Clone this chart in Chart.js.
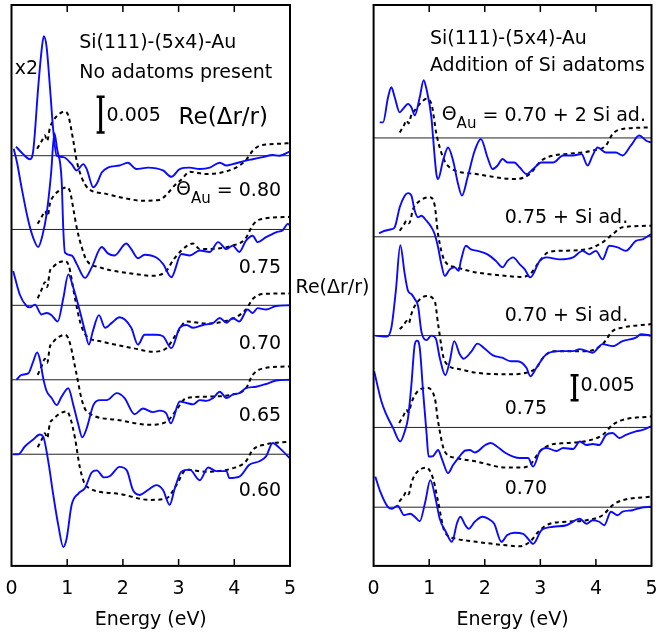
<!DOCTYPE html>
<html>
<head>
<meta charset="utf-8">
<script src="https://cdn.jsdelivr.net/npm/chart.js@4.4.1/dist/chart.umd.min.js"></script>
<style>
  html, body { margin: 0; padding: 0; background: #fff; }
  #wrap { position: relative; width: 663px; height: 633px; }
  #left { position: absolute; left: 0; top: 0; }
  #right { position: absolute; left: 331px; top: 0; }
</style>
</head>
<body>
<div id="wrap">
  <canvas id="left" width="372" height="633"></canvas>
  <canvas id="right" width="332" height="633"></canvas>
</div>
<script>
// x axis
const xTickLabels = ['0', '1', '2', '3', '4', '5'];

// Re(dr/r) in units of 0.001, each curve relative to its own zero line
// left panel: no adatoms, coverage 0.80 .. 0.60 (top curve shown x2)
const leftLabels = ['0.80', '0.75', '0.70', '0.65', '0.60'];
const leftOffsets = [58.4, 47.9, 37.1, 26.5, 15.9];

const expL080 = [[0.08,1.3],[0.2,0.3],[0.33,-0.5],[0.39,0.7],[0.48,9.8],[0.54,15],[0.58,17.0],[0.63,15.5],[0.69,9.8],[0.75,3.6],[0.81,0],[0.93,-0.2],[1.08,-1.2],[1.17,-2.1],[1.29,-1.2],[1.35,-1.9],[1.47,-4.5],[1.53,-4.0],[1.62,-2.4],[1.73,-1.7],[1.94,-1.4],[2.09,-1.0],[2.24,-1.9],[2.45,-1.7],[2.72,-2.1],[2.87,-3.0],[3.02,-1.9],[3.2,-1.7],[3.38,-1.9],[3.56,-1.7],[3.74,-1.0],[3.86,-1.4],[3.97,-1.2],[4.21,-0.7],[4.33,-0.5],[4.51,-0.2],[4.69,0.1],[4.81,0],[5.0,0.6]];
const expL075 = [[0.04,11.5],[0.1,9.5],[0.18,6.0],[0.3,1.3],[0.39,-1.2],[0.48,-2.5],[0.56,-0.7],[0.63,2.2],[0.71,7.9],[0.77,13.7],[0.82,11.4],[0.9,7.0],[0.93,0],[0.96,-3.3],[1.08,-3.7],[1.17,-4.9],[1.32,-6.9],[1.44,-5.4],[1.62,-2.5],[1.73,-3.4],[1.85,-3.7],[2.06,-2.0],[2.15,-2.8],[2.27,-4.1],[2.39,-3.6],[2.6,-4.0],[2.72,-4.9],[2.87,-6.8],[3.05,-3.5],[3.2,-3.7],[3.38,-3.0],[3.56,-3.2],[3.71,-1.8],[3.86,-2.8],[3.97,-2.3],[4.09,-3.2],[4.21,-1.6],[4.33,-0.9],[4.42,-1.8],[4.57,-1.1],[4.75,-0.4],[4.87,-0.1],[4.96,0.8],[5.0,0.6]];
const expL070 = [[0.03,4.9],[0.15,1.5],[0.27,-0.1],[0.33,-0.3],[0.42,0.1],[0.54,-1.3],[0.63,-1.1],[0.72,-1.4],[0.83,-2.3],[0.93,1.0],[1.02,4.4],[1.11,2.5],[1.23,-0.9],[1.32,-3.7],[1.39,-5.6],[1.46,-3.7],[1.57,-1.4],[1.68,-3.2],[1.8,-2.5],[1.94,-1.7],[2.15,-3.2],[2.27,-5.6],[2.39,-4.2],[2.6,-4.2],[2.72,-4.4],[2.87,-6.1],[3.02,-3.2],[3.14,-2.8],[3.26,-3.2],[3.44,-2.8],[3.62,-2.5],[3.74,-1.8],[3.86,-2.5],[3.97,-1.8],[4.09,-2.3],[4.24,-0.6],[4.33,-1.1],[4.42,-0.4],[4.57,-0.6],[4.75,-0.1],[5.0,0]];
const expL065 = [[0.09,0],[0.18,0.7],[0.3,0.9],[0.39,2.6],[0.46,3.9],[0.51,2.9],[0.57,0.2],[0.63,-1.6],[0.72,-2.6],[0.81,-3.6],[0.9,-2.4],[1.02,-1.2],[1.11,-3.6],[1.2,-6.4],[1.27,-8.2],[1.35,-6.9],[1.47,-3.6],[1.59,-2.9],[1.71,-2.9],[1.89,-1.9],[2.03,-2.6],[2.21,-4.9],[2.36,-4.1],[2.54,-4.6],[2.66,-4.4],[2.78,-4.8],[2.86,-6.2],[3.02,-3.1],[3.14,-3.3],[3.26,-3.5],[3.38,-2.9],[3.5,-3.0],[3.62,-2.6],[3.74,-1.7],[3.86,-2.6],[3.97,-2.1],[4.09,-1.9],[4.21,-1.2],[4.39,-1.0],[4.57,-0.6],[4.75,-0.1],[5.0,0]];
const expL060 = [[0.03,0],[0.12,0],[0.24,1.1],[0.39,2.1],[0.51,2.8],[0.57,2.5],[0.66,-1.0],[0.75,-5.8],[0.84,-10.1],[0.93,-13.2],[0.99,-12.0],[1.08,-7.2],[1.2,-5.6],[1.32,-4.8],[1.44,-2.6],[1.53,-2.3],[1.66,-3.3],[1.77,-3.1],[1.94,-1.8],[2.07,-2.3],[2.18,-5.1],[2.3,-5.8],[2.45,-5.1],[2.6,-4.4],[2.72,-5.1],[2.84,-7.2],[2.93,-4.9],[3.05,-2.5],[3.2,-2.2],[3.38,-3.7],[3.53,-1.9],[3.68,-2.4],[3.86,-2.4],[3.91,-3.4],[4.09,-3.2],[4.27,-1.5],[4.45,-1.0],[4.57,-0.3],[4.69,1.6],[4.81,0.9],[5.0,-0.6]];

const thL080 = [[0.46,1.0],[0.55,2.2],[0.6,2.9],[0.64,2.1],[0.69,4.0],[0.75,5.0],[0.85,5.9],[0.96,6.3],[1.02,5.7],[1.11,2.1],[1.17,-0.7],[1.26,-3.1],[1.38,-4.7],[1.68,-5.4],[2.0,-6.0],[2.35,-6.4],[2.65,-6.3],[2.8,-5.4],[2.92,-4.3],[3.05,-3.4],[3.2,-2.3],[3.5,-2.6],[3.97,-1.9],[4.2,-0.7],[4.33,0.7],[4.45,1.4],[4.8,1.7],[5.0,1.8]];
const thL075 = [[0.47,0.8],[0.55,1.9],[0.6,2.6],[0.65,1.9],[0.69,3.7],[0.75,4.7],[0.87,5.6],[0.99,6.0],[1.05,5.4],[1.12,2.5],[1.17,0.3],[1.26,-2.5],[1.35,-4.4],[1.59,-5.4],[2.18,-6.3],[2.54,-6.6],[2.78,-5.9],[2.9,-4.4],[3.05,-3.0],[3.26,-2.0],[3.38,-2.8],[3.97,-2.3],[4.2,-1.3],[4.33,0.6],[4.45,1.4],[5.0,1.8]];
const thL070 = [[0.47,1.0],[0.55,2.4],[0.6,3.3],[0.64,2.6],[0.69,4.9],[0.75,5.5],[0.85,6.1],[0.96,6.3],[1.03,5.6],[1.14,1.0],[1.24,-2.6],[1.35,-4.4],[1.59,-5.1],[2.18,-6.1],[2.54,-6.6],[2.78,-6.1],[2.96,-4.1],[3.14,-2.3],[3.5,-2.6],[3.97,-1.9],[4.21,-0.6],[4.33,0.9],[4.51,1.6],[5.0,1.7]];
const thL065 = [[0.47,0.7],[0.55,2.1],[0.6,3.0],[0.64,2.4],[0.69,4.7],[0.75,5.4],[0.85,6.1],[0.96,6.4],[1.03,5.7],[1.17,0.7],[1.26,-2.8],[1.35,-4.5],[1.89,-5.7],[2.48,-6.4],[2.78,-6.0],[2.96,-4.3],[3.14,-2.6],[3.5,-2.4],[3.97,-2.1],[4.21,-1.2],[4.33,0.7],[4.57,1.7],[5.0,1.9]];
const thL060 = [[0.47,1.0],[0.55,2.2],[0.6,3.0],[0.64,2.3],[0.69,4.4],[0.75,5.0],[0.87,5.8],[0.99,6.1],[1.05,5.3],[1.14,2.3],[1.23,-2.0],[1.35,-4.6],[1.89,-5.6],[2.48,-6.5],[2.78,-6.3],[2.96,-4.4],[3.14,-2.2],[3.5,-2.5],[3.97,-2.0],[4.21,-1.0],[4.33,0.6],[4.57,1.4],[5.0,1.8]];

// right panel: addition of Si adatoms
const rightLabels = ['0.70 + 2 Si ad.', '0.75 + Si ad.', '0.70 + Si ad.', '0.75', '0.70'];
const rightOffsets = [85.3, 65.6, 45.9, 27.6, 11.7];

const expR1 = [[0.11,3.1],[0.17,3.1],[0.26,8.1],[0.32,10.1],[0.38,8.1],[0.47,5.1],[0.53,5.8],[0.62,6.8],[0.68,6.1],[0.74,4.5],[0.83,8.1],[0.9,11.5],[0.95,9.8],[1.04,4.1],[1.07,0.1],[1.13,-7.2],[1.16,-8.2],[1.25,-4.5],[1.34,-1.9],[1.43,-4.5],[1.52,-9.2],[1.59,-11.5],[1.69,-7.9],[1.82,-2.5],[1.93,-0.2],[2.05,-3.9],[2.14,-6.2],[2.23,-5.5],[2.32,-4.2],[2.41,-4.9],[2.53,-4.9],[2.63,-5.9],[2.75,-7.2],[2.87,-6.2],[3.02,-4.9],[3.23,-4.9],[3.41,-3.5],[3.59,-3.5],[3.74,-3.2],[3.85,-5.5],[3.94,-3.5],[4.03,-1.9],[4.18,-2.9],[4.36,-2.9],[4.48,-3.5],[4.63,-1.5],[4.78,0.5],[4.9,-0.5],[4.99,-0.9]];
const expR2 = [[0.1,0.7],[0.2,1.2],[0.32,1.5],[0.38,1.9],[0.47,5.9],[0.56,8.2],[0.62,8.7],[0.68,8.2],[0.74,5.2],[0.8,3.9],[0.86,4.2],[0.95,3.2],[1.04,1.9],[1.1,0.5],[1.16,-2.1],[1.22,-5.5],[1.28,-7.8],[1.37,-6.5],[1.46,-6.1],[1.53,-6.8],[1.57,-4.8],[1.66,-1.8],[1.75,-2.5],[1.87,-2.8],[2.05,-3.5],[2.2,-4.8],[2.32,-6.1],[2.41,-4.8],[2.51,-4.1],[2.63,-5.5],[2.72,-6.5],[2.82,-8.1],[2.99,-4.8],[3.11,-4.1],[3.35,-4.5],[3.59,-4.1],[3.76,-2.8],[3.88,-3.5],[4.0,-2.8],[4.12,-4.5],[4.24,-1.8],[4.39,-2.1],[4.54,-2.8],[4.72,-0.8],[4.84,-0.5],[4.99,0.5]];
const expR3 = [[0.03,0],[0.24,-0.2],[0.32,1.6],[0.4,8.9],[0.48,18.0],[0.56,12.3],[0.62,8.9],[0.68,8.3],[0.74,7.3],[0.8,5.9],[0.86,0.8],[0.95,-0.9],[1.04,0],[1.12,-0.6],[1.19,-4.4],[1.29,-7.9],[1.37,-5.1],[1.45,-1.1],[1.55,-3.7],[1.62,-4.6],[1.75,-3.3],[1.87,-1.6],[1.98,-2.4],[2.14,-3.9],[2.31,-4.4],[2.47,-5.1],[2.59,-5.1],[2.75,-6.4],[2.82,-8.1],[2.93,-6.4],[3.11,-3.7],[3.35,-3.1],[3.59,-3.1],[3.71,-2.7],[3.94,-3.4],[4.12,-1.7],[4.3,-2.1],[4.48,-1.1],[4.72,-0.4],[4.81,0.3],[4.99,0]];
const expR4 = [[0.01,11.2],[0.14,5.2],[0.22,2.8],[0.35,-0.1],[0.48,-2.8],[0.56,-0.8],[0.62,1.9],[0.68,8.5],[0.74,16.5],[0.78,17.3],[0.83,15.9],[0.89,7.2],[0.95,-0.8],[0.99,-5.8],[1.07,-5.7],[1.16,-4.5],[1.23,-6.3],[1.34,-9.1],[1.43,-7.5],[1.53,-6.0],[1.65,-4.6],[1.73,-4.5],[1.82,-5.0],[2.01,-3.5],[2.11,-3.1],[2.22,-3.8],[2.36,-5.0],[2.51,-5.8],[2.63,-6.1],[2.78,-6.1],[2.87,-7.8],[2.99,-4.8],[3.11,-4.1],[3.29,-4.7],[3.41,-4.1],[3.59,-4.3],[3.71,-2.8],[3.83,-3.5],[3.94,-3.3],[4.06,-3.5],[4.18,-1.5],[4.3,-1.1],[4.42,-2.1],[4.54,-1.5],[4.72,-0.8],[4.84,-0.5],[4.99,0.2]];
const expR5 = [[0.03,6.1],[0.12,3.1],[0.26,0],[0.33,-0.3],[0.43,0.3],[0.55,-1.6],[0.66,-1.3],[0.74,-1.9],[0.83,-2.8],[0.93,1.1],[1.02,5.4],[1.11,2.0],[1.19,-2.3],[1.3,-4.9],[1.41,-6.9],[1.5,-3.2],[1.56,-1.9],[1.65,-3.6],[1.71,-4.3],[1.82,-2.9],[1.96,-1.9],[2.09,-2.5],[2.17,-3.3],[2.3,-6.9],[2.4,-5.6],[2.54,-5.1],[2.69,-5.3],[2.78,-6.3],[2.87,-7.3],[3.02,-4.6],[3.23,-3.9],[3.47,-3.6],[3.71,-2.3],[3.83,-3.3],[3.94,-2.6],[4.06,-2.9],[4.15,-3.6],[4.27,-0.9],[4.39,-1.6],[4.48,-0.9],[4.66,-0.6],[4.81,-0.1],[4.99,0.1]];

const thR1 = [[0.47,1.1],[0.55,2.6],[0.59,3.5],[0.63,2.9],[0.68,4.6],[0.74,5.5],[0.85,7.0],[0.95,7.8],[1.04,6.8],[1.13,0.8],[1.25,-3.9],[1.37,-5.9],[1.85,-7.2],[2.57,-8.2],[2.81,-7.2],[3.02,-4.5],[3.23,-3.5],[3.47,-3.2],[3.94,-2.5],[4.18,-1.5],[4.3,0.8],[4.48,1.8],[5.0,2.1]];
const thR2 = [[0.47,1.2],[0.55,2.5],[0.59,3.2],[0.64,2.7],[0.71,5.5],[0.8,6.9],[1.01,7.9],[1.1,6.2],[1.16,0.5],[1.28,-4.8],[1.49,-6.1],[1.85,-7.1],[2.39,-7.8],[2.63,-8.0],[2.81,-7.5],[2.99,-4.8],[3.14,-3.1],[3.35,-2.8],[3.83,-2.5],[4.12,-1.1],[4.3,0.5],[4.48,1.9],[5.0,2.2]];
const thR3 = [[0.47,1.3],[0.55,2.2],[0.59,2.9],[0.63,2.4],[0.68,4.3],[0.74,5.9],[0.95,7.9],[1.1,6.9],[1.16,2.3],[1.28,-5.1],[1.55,-6.7],[1.85,-7.4],[2.45,-7.7],[2.75,-7.4],[2.93,-6.4],[3.05,-4.4],[3.23,-3.1],[3.83,-3.1],[4.12,-1.7],[4.3,0.9],[4.48,1.6],[5.0,2.3]];
const thR4 = [[0.46,0.9],[0.54,2.4],[0.59,3.5],[0.63,3.0],[0.68,4.9],[0.77,6.9],[0.95,7.9],[1.1,5.9],[1.16,1.2],[1.28,-4.8],[1.49,-6.1],[1.85,-6.8],[2.39,-8.0],[2.63,-8.0],[2.81,-7.5],[2.99,-4.8],[3.17,-3.5],[3.47,-3.1],[3.83,-2.7],[4.12,-1.5],[4.3,0.5],[4.48,1.5],[5.0,2.2]];
const thR5 = [[0.46,1.1],[0.54,2.2],[0.59,3.1],[0.63,2.6],[0.68,4.8],[0.74,6.4],[0.95,7.9],[1.07,5.7],[1.16,1.1],[1.28,-4.9],[1.49,-6.3],[1.85,-6.9],[2.39,-7.6],[2.63,-7.8],[2.81,-6.9],[2.99,-4.6],[3.17,-3.3],[3.47,-2.9],[3.83,-2.6],[4.12,-1.6],[4.3,0.4],[4.48,1.4],[5.0,2.1]];

const FONT = 'DejaVu Sans';
const BLUE = '#0a0aff';

function shifted(points, offset) {
  return points.map(p => ({ x: p[0], y: p[1] + offset }));
}

function buildDatasets(expList, thList, offsets) {
  const sets = [];
  offsets.forEach((off, i) => {
    sets.push({ data: [{ x: 0, y: off }, { x: 5, y: off }], borderColor: '#222', borderWidth: 1, order: 3 });
    sets.push({ data: shifted(thList[i], off), borderColor: '#000', borderWidth: 2, borderDash: [4, 3.5], order: 2, cubicInterpolationMode: 'monotone' });
    sets.push({ data: shifted(expList[i], off), borderColor: BLUE, borderWidth: 1.9, order: 1, cubicInterpolationMode: 'monotone' });
  });
  return sets;
}

// frame, inward ticks, scale bar and texts
const decorPlugin = {
  id: 'decor',
  afterDraw(chart, args, opts) {
    const { ctx, chartArea: a, scales: { x, y } } = chart;
    ctx.save();
    ctx.strokeStyle = '#000';
    ctx.lineWidth = 1.5;
    [1, 2, 3, 4].forEach(v => {
      const px = x.getPixelForValue(v);
      ctx.beginPath();
      ctx.moveTo(px, a.top); ctx.lineTo(px, a.top + 7);
      ctx.moveTo(px, a.bottom); ctx.lineTo(px, a.bottom - 7);
      ctx.stroke();
    });
    ctx.lineWidth = 2;
    ctx.strokeRect(a.left, a.top, a.right - a.left, a.bottom - a.top);

    // 0.005 scale bar
    const bx = x.getPixelForValue(opts.bar.x);
    const b1 = y.getPixelForValue(opts.bar.from);
    const b2 = y.getPixelForValue(opts.bar.to);
    ctx.lineWidth = 3;
    ctx.beginPath();
    ctx.moveTo(bx, b1); ctx.lineTo(bx, b2);
    ctx.stroke();
    ctx.lineWidth = 2.5;
    ctx.beginPath();
    ctx.moveTo(bx - 4, b1); ctx.lineTo(bx + 4, b1);
    ctx.moveTo(bx - 4, b2); ctx.lineTo(bx + 4, b2);
    ctx.stroke();

    ctx.fillStyle = '#000';
    ctx.textBaseline = 'middle';
    opts.texts.forEach(t => {
      ctx.font = (t.size || 19) + 'px "' + FONT + '"';
      ctx.textAlign = t.align || 'left';
      ctx.fillText(t.text, x.getPixelForValue(t.x), y.getPixelForValue(t.y));
    });

    // Theta_Au label, right aligned
    const th = opts.theta;
    const big = '19px "' + FONT + '"', small = '15px "' + FONT + '"';
    ctx.textAlign = 'left';
    ctx.font = big;
    const w1 = ctx.measureText('\u0398').width;
    const w3 = ctx.measureText(th.rest).width;
    ctx.font = small;
    const w2 = ctx.measureText('Au').width;
    let px = x.getPixelForValue(th.x) - (w1 + w2 + w3);
    const py = y.getPixelForValue(th.y);
    ctx.font = big;
    ctx.fillText('\u0398', px, py - 1);
    ctx.font = small;
    ctx.fillText('Au', px + w1, py + 8);
    ctx.font = big;
    ctx.fillText(th.rest, px + w1 + w2, py);
    ctx.restore();
  }
};

function makeChart(id, datasets, yMax, padding, decor) {
  return new Chart(document.getElementById(id), {
    type: 'line',
    data: { datasets: datasets },
    options: {
      responsive: false,
      animation: false,
      devicePixelRatio: 1,
      elements: { point: { radius: 0 } },
      layout: { padding: padding },
      plugins: { legend: { display: false }, tooltip: { enabled: false }, decor: decor },
      scales: {
        x: {
          type: 'linear', min: 0, max: 5,
          grid: { display: false, drawTicks: false },
          border: { display: false },
          ticks: {
            stepSize: 1, padding: 5, color: '#000',
            font: { family: FONT, size: 19, lineHeight: 1.9 },
            callback: (v, i) => xTickLabels[i]
          },
          title: {
            display: true, text: 'Energy (eV)', color: '#000',
            font: { family: FONT, size: 19 },
            padding: { top: -3.8, bottom: 0 }
          }
        },
        y: { display: false, min: 0, max: yMax }
      }
    },
    plugins: [decorPlugin]
  });
}

const leftTexts = [
  { text: 'x2', x: 0.06, y: 70.7 },
  { text: 'Si(111)-(5x4)-Au', x: 1.215, y: 74.4 },
  { text: 'No adatoms present', x: 1.215, y: 70.2 },
  { text: '0.005', x: 1.706, y: 64.0 },
  { text: 'Re(\u0394r/r)', x: 3.0, y: 63.7, size: 23 },
  { text: leftLabels[1], x: 4.84, y: 42.36, align: 'right' },
  { text: leftLabels[2], x: 4.84, y: 31.64, align: 'right' },
  { text: leftLabels[3], x: 4.84, y: 21.29, align: 'right' },
  { text: leftLabels[4], x: 4.84, y: 10.71, align: 'right' },
  { text: 'Re(\u0394r/r)', x: 5.1, y: 39.57 }
];

const rightTexts = [
  { text: 'Si(111)-(5x4)-Au', x: 1.013, y: 105.0 },
  { text: 'Addition of Si adatoms', x: 1.013, y: 99.6 },
  { text: rightLabels[1], x: 2.36, y: 69.4 },
  { text: rightLabels[2], x: 2.36, y: 49.8 },
  { text: '0.005', x: 3.723, y: 35.8 },
  { text: rightLabels[3], x: 2.36, y: 31.3 },
  { text: rightLabels[4], x: 2.36, y: 15.3 }
];

makeChart('left',
  buildDatasets([expL080, expL075, expL070, expL065, expL060], [thL080, thL075, thL070, thL065, thL060], leftOffsets),
  559 / 7,
  { left: 11.5, right: 82, top: 5, bottom: 2 },
  { texts: leftTexts, bar: { x: 1.6, from: 61.7, to: 66.8 }, theta: { x: 4.84, y: 53.4, rest: ' = ' + leftLabels[0] } }
);

makeChart('right',
  buildDatasets([expR1, expR2, expR3, expR4, expR5], [thR1, thR2, thR3, thR4, thR5], rightOffsets),
  559 / 5,
  { left: 42.6, right: 11.5, top: 5, bottom: 2 },
  { texts: rightTexts, bar: { x: 3.616, from: 33.0, to: 38.0 }, theta: { x: 4.9, y: 89.6, rest: ' = ' + rightLabels[0] } }
);
</script>
</body>
</html>
